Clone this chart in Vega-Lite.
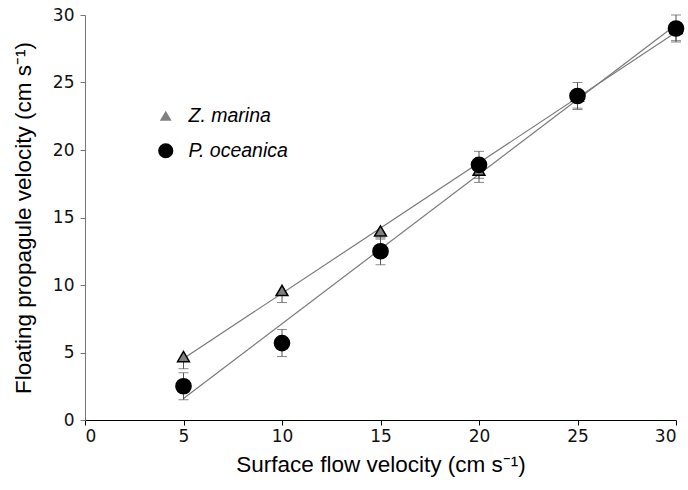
{
  "$schema": "https://vega.github.io/schema/vega-lite/v6.json",
  "width": 591,
  "height": 405,
  "autosize": {"type": "none"},
  "padding": {"left": 85, "top": 15, "right": 12, "bottom": 70},
  "background": "white",
  "config": {
    "view": {"stroke": null},
    "axis": {
      "grid": false,
      "domainColor": "black",
      "tickColor": "black",
      "tickSize": 5,
      "labelFont": "DejaVu Sans",
      "labelFontSize": 17,
      "labelColor": "#111",
      "titleFont": "Liberation Sans",
      "titleFontSize": 22.5,
      "titleFontWeight": "normal",
      "titleColor": "black"
    }
  },
  "data": {
    "values": [
      {"species": "Z. marina", "x": 5, "y": 4.7, "lo": 3.8, "hi": 4.7},
      {"species": "Z. marina", "x": 10, "y": 9.6, "lo": 8.7, "hi": 9.6},
      {"species": "Z. marina", "x": 15, "y": 14.0, "lo": 13.4, "hi": 14.0},
      {"species": "Z. marina", "x": 20, "y": 18.5, "lo": 17.6, "hi": 18.5},
      {"species": "Z. marina", "x": 25, "y": 24.0, "lo": 23.1, "hi": 24.0},
      {"species": "Z. marina", "x": 30, "y": 29.0, "lo": 28.1, "hi": 29.0},
      {"species": "P. oceanica", "x": 5, "y": 2.5, "lo": 1.5, "hi": 3.5},
      {"species": "P. oceanica", "x": 10, "y": 5.7, "lo": 4.7, "hi": 6.7},
      {"species": "P. oceanica", "x": 15, "y": 12.5, "lo": 11.5, "hi": 13.5},
      {"species": "P. oceanica", "x": 20, "y": 18.9, "lo": 17.9, "hi": 19.9},
      {"species": "P. oceanica", "x": 25, "y": 24.0, "lo": 23.0, "hi": 25.0},
      {"species": "P. oceanica", "x": 30, "y": 29.0, "lo": 28.0, "hi": 30.0}
    ]
  },
  "layer": [
    {
      "transform": [{"regression": "y", "on": "x", "groupby": ["species"], "extent": [5, 30]}],
      "mark": {"type": "line", "color": "#7a7a7a", "strokeWidth": 1.2},
      "encoding": {
        "x": {"field": "x", "type": "quantitative", "scale": {"domain": [0, 30]},
          "axis": {"values": [0, 5, 10, 15, 20, 25, 30], "title": "Surface flow velocity (cm s⁻¹)", "titlePadding": 9, "labelPadding": 3}},
        "y": {"field": "y", "type": "quantitative", "scale": {"domain": [0, 30]},
          "axis": {"values": [0, 5, 10, 15, 20, 25, 30], "title": "Floating propagule velocity (cm s⁻¹)", "titlePadding": 17, "labelPadding": 6, "domainColor": "#777", "tickColor": "#777"}},
        "detail": {"field": "species"}
      }
    },
    {
      "mark": {"type": "rule", "color": "#555", "strokeWidth": 1},
      "encoding": {
        "x": {"field": "x", "type": "quantitative"},
        "y": {"field": "lo", "type": "quantitative"},
        "y2": {"field": "hi"}
      }
    },
    {
      "mark": {"type": "tick", "orient": "horizontal", "color": "#555", "size": 10, "thickness": 1},
      "encoding": {
        "x": {"field": "x", "type": "quantitative"},
        "y": {"field": "lo", "type": "quantitative"}
      }
    },
    {
      "transform": [{"filter": "datum.species === 'P. oceanica'"}],
      "mark": {"type": "tick", "orient": "horizontal", "color": "#555", "size": 10, "thickness": 1},
      "encoding": {
        "x": {"field": "x", "type": "quantitative"},
        "y": {"field": "hi", "type": "quantitative"}
      }
    },
    {
      "mark": {"type": "point", "filled": true, "stroke": "black", "strokeWidth": 1.5, "opacity": 1},
      "encoding": {
        "x": {"field": "x", "type": "quantitative"},
        "y": {"field": "y", "type": "quantitative"},
        "shape": {"field": "species", "type": "nominal", "scale": {"domain": ["Z. marina", "P. oceanica"], "range": ["triangle-up", "circle"]}},
        "fill": {"field": "species", "type": "nominal", "scale": {"domain": ["Z. marina", "P. oceanica"], "range": ["#808080", "black"]}},
        "size": {"field": "species", "type": "nominal", "scale": {"domain": ["Z. marina", "P. oceanica"], "range": [140, 230]},
          "legend": {
            "orient": "none", "legendX": 71, "legendY": 91, "title": null,
            "labelFont": "Liberation Sans", "labelFontSize": 19.5, "labelFontStyle": "italic", "labelColor": "black",
            "rowPadding": 14, "labelOffset": 13, "symbolStrokeWidth": 0
          }
        }
      }
    }
  ]
}
